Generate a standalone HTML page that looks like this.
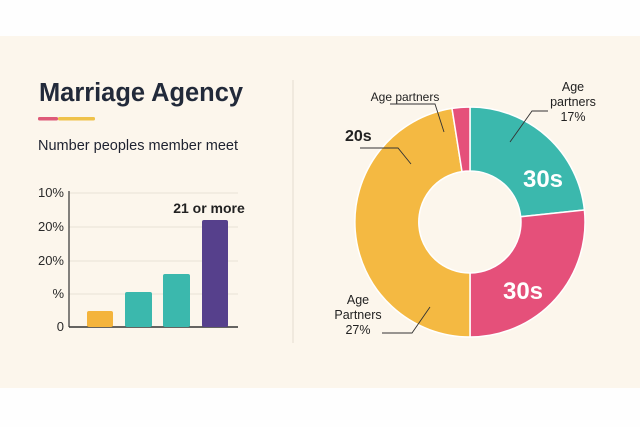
<!DOCTYPE html>
<html><head><meta charset="utf-8"><style>
html,body{margin:0;padding:0;background:#fefefe;}
svg{display:block;font-family:"Liberation Sans",sans-serif;}
</style></head><body>
<svg width="640" height="427" viewBox="0 0 640 427" xmlns="http://www.w3.org/2000/svg">
<rect x="0" y="0" width="640" height="427" fill="#fefefe"/>
<rect x="0" y="36" width="640" height="352" fill="#fcf6ec"/>
<text x="39" y="101" font-size="25.5" font-weight="bold" fill="#222a3a" textLength="204" lengthAdjust="spacingAndGlyphs">Marriage Agency</text>
<rect x="38" y="117" width="20" height="3.5" fill="#de5a78" rx="1.5"/>
<rect x="58" y="117" width="37" height="3.5" fill="#efc24a" rx="1.5"/>
<text x="38" y="150" font-size="15" fill="#1e2230" textLength="200" lengthAdjust="spacingAndGlyphs">Number peoples member meet</text>
<g stroke="#e9e2d6" stroke-width="1">
<line x1="69" y1="193" x2="238" y2="193"/><line x1="69" y1="227" x2="238" y2="227"/>
<line x1="69" y1="261" x2="238" y2="261"/><line x1="69" y1="294" x2="238" y2="294"/>
</g>
<line x1="69" y1="191" x2="69" y2="327" stroke="#333" stroke-width="1.2"/>
<line x1="69" y1="327" x2="238" y2="327" stroke="#333" stroke-width="1.5"/>
<g font-size="13" fill="#2a2a2a" text-anchor="end">
<text x="64" y="197">10%</text><text x="64" y="231">20%</text><text x="64" y="265">20%</text><text x="64" y="298">%</text><text x="64" y="331">0</text>
</g>
<rect x="87" y="311" width="26" height="16" rx="2" fill="#f4b43c"/>
<rect x="125" y="292" width="27" height="35" rx="2" fill="#3bb8ad"/>
<rect x="163" y="274" width="27" height="53" rx="2" fill="#3bb8ad"/>
<rect x="202" y="220" width="26" height="107" rx="2" fill="#56408c"/>
<text x="209" y="213" font-size="14" font-weight="bold" fill="#222" text-anchor="middle">21 or more</text>
<line x1="293" y1="80" x2="293" y2="343" stroke="#e3dccf" stroke-width="1"/>
<g stroke="#fff" stroke-width="1.5">
<path d="M470,107 A115,115 0 0 1 584.4,210 L520.7,216.7 A51,51 0 0 0 470,171 Z" fill="#3bb8ad"/>
<path d="M584.4,210 A115,115 0 0 1 470,337 L470,273 A51,51 0 0 0 520.7,216.7 Z" fill="#e5507a"/>
<path d="M470,337 A115,115 0 0 1 452,108.4 L462,171.6 A51,51 0 0 0 470,273 Z" fill="#f4b942"/>
<path d="M452,108.4 A115,115 0 0 1 470,107 L470,171 A51,51 0 0 0 462,171.6 Z" fill="#e5507a"/>
</g>
<g stroke="#333" stroke-width="0.9" fill="none">
<polyline points="390,104 435,104 444,132"/>
<polyline points="360,148 398,148 411,164"/>
<polyline points="548,111 532,111 510,142"/>
<polyline points="382,333 412,333 430,307"/>
</g>
<text x="405" y="101" font-size="12" fill="#222" text-anchor="middle">Age partners</text>
<text x="345" y="141" font-size="16" font-weight="bold" fill="#222">20s</text>
<g font-size="12.5" fill="#222" text-anchor="middle">
<text x="573" y="91">Age</text><text x="573" y="106">partners</text><text x="573" y="121">17%</text>
<text x="358" y="304">Age</text><text x="358" y="319">Partners</text><text x="358" y="334">27%</text>
</g>
<text x="543" y="187" font-size="24" font-weight="bold" fill="#fff" text-anchor="middle">30s</text>
<text x="523" y="299" font-size="24" font-weight="bold" fill="#fff" text-anchor="middle">30s</text>
</svg>
</body></html>
